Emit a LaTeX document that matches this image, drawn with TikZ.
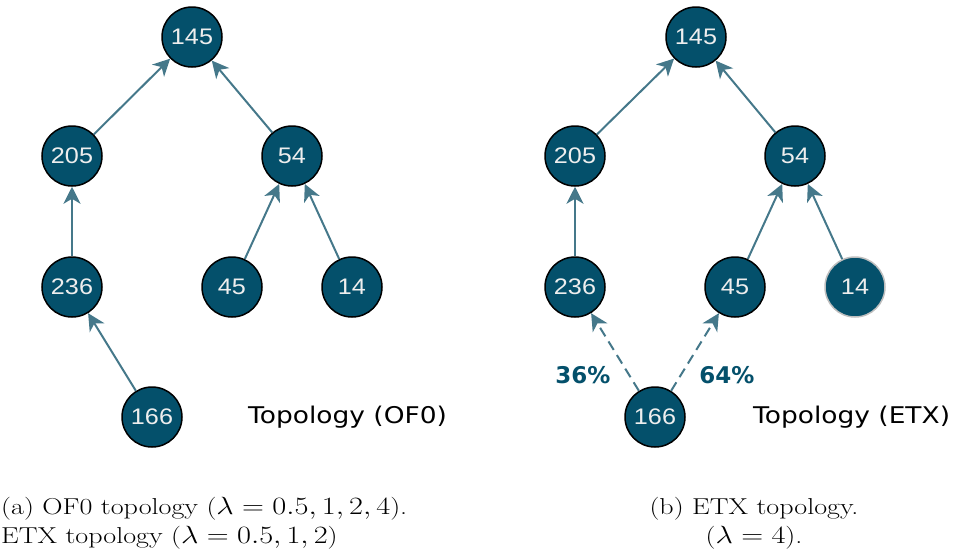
\documentclass[tikz,border=0pt]{standalone}
\usepackage{fontspec}
\newfontfamily\nodefont[FakeStretch=1.12]{Liberation Sans}
\newfontfamily\lblfont{DejaVu Sans}
\usetikzlibrary{arrows.meta}
\definecolor{nfill}{HTML}{04506B}
\definecolor{edgec}{HTML}{45788A}
\definecolor{ntext}{HTML}{EEEEEE}
\tikzset{
  nd/.style={circle,draw=black,line width=1.5pt,fill=nfill,minimum size=60pt,inner sep=0pt,text=ntext,font=\nodefont\fontsize{22.5}{22.5}\selectfont},
  ndgray/.style={nd,draw=black!25},
  edge/.style={draw=edgec,line width=2pt,-{Stealth[length=17pt,width=17pt,inset=5pt]}},
  dedge/.style={edge,dash pattern=on 10pt off 6pt},
  topo/.style={font=\lblfont\fontsize{23}{23}\selectfont,anchor=west,inner sep=0pt,xscale=1.15,transform shape},
  pct/.style={font=\lblfont\bfseries\fontsize{23}{23}\selectfont,text=nfill,inner sep=0pt},
  captext/.style={font=\fontsize{23}{29}\selectfont,inner sep=0pt,xscale=1.22,transform shape}
}
\begin{document}
\begin{tikzpicture}[x=1pt,y=-1pt]
\useasboundingbox (0,0) rectangle (954,558);
% left panel
\node[nd] (a145) at (192,37) {145};
\node[nd] (a205) at (72,156) {205};
\node[nd] (a54) at (292,156) {54};
\node[nd] (a236) at (72,287) {236};
\node[nd] (a45) at (232,287) {45};
\node[nd] (a14) at (352,287) {14};
\node[nd] (a166) at (152,417) {166};
\draw[edge] (a205) -- (a145);
\draw[edge] (a54) -- (a145);
\draw[edge] (a236) -- (a205);
\draw[edge] (a45) -- (a54);
\draw[edge] (a14) -- (a54);
\draw[edge] (a166) -- (a236);
\node[topo] (t1) at (248,417) {Topology (OF0)};
% right panel
\node[nd] (b145) at (696,37) {145};
\node[nd] (b205) at (575,156) {205};
\node[nd] (b54) at (795,156) {54};
\node[nd] (b236) at (575,287) {236};
\node[nd] (b45) at (735,287) {45};
\node[ndgray] (b14) at (855,287) {14};
\node[nd] (b166) at (655,417) {166};
\draw[edge] (b205) -- (b145);
\draw[edge] (b54) -- (b145);
\draw[edge] (b236) -- (b205);
\draw[edge] (b45) -- (b54);
\draw[edge] (b14) -- (b54);
\draw[dedge] (b166) -- (b236);
\draw[dedge] (b166) -- (b45);
\node[pct] (p36) at (583,375) {36\%};
\node[pct] (p64) at (727,375) {64\%};
\node[topo] (t2) at (753,417) {Topology (ETX)};
% captions
\node[captext,anchor=base west] (ca1) at (1,514) {(a) OF0 topology ($\lambda = 0.5, 1, 2, 4$).};
\node[captext,anchor=base west] (ca2) at (1,543) {ETX topology ($\lambda = 0.5, 1, 2$)};
\node[captext,anchor=base] (cb1) at (754,514) {(b) ETX topology.};
\node[captext,anchor=base] (cb2) at (754,543) {($\lambda = 4$).};
\end{tikzpicture}
\end{document}
